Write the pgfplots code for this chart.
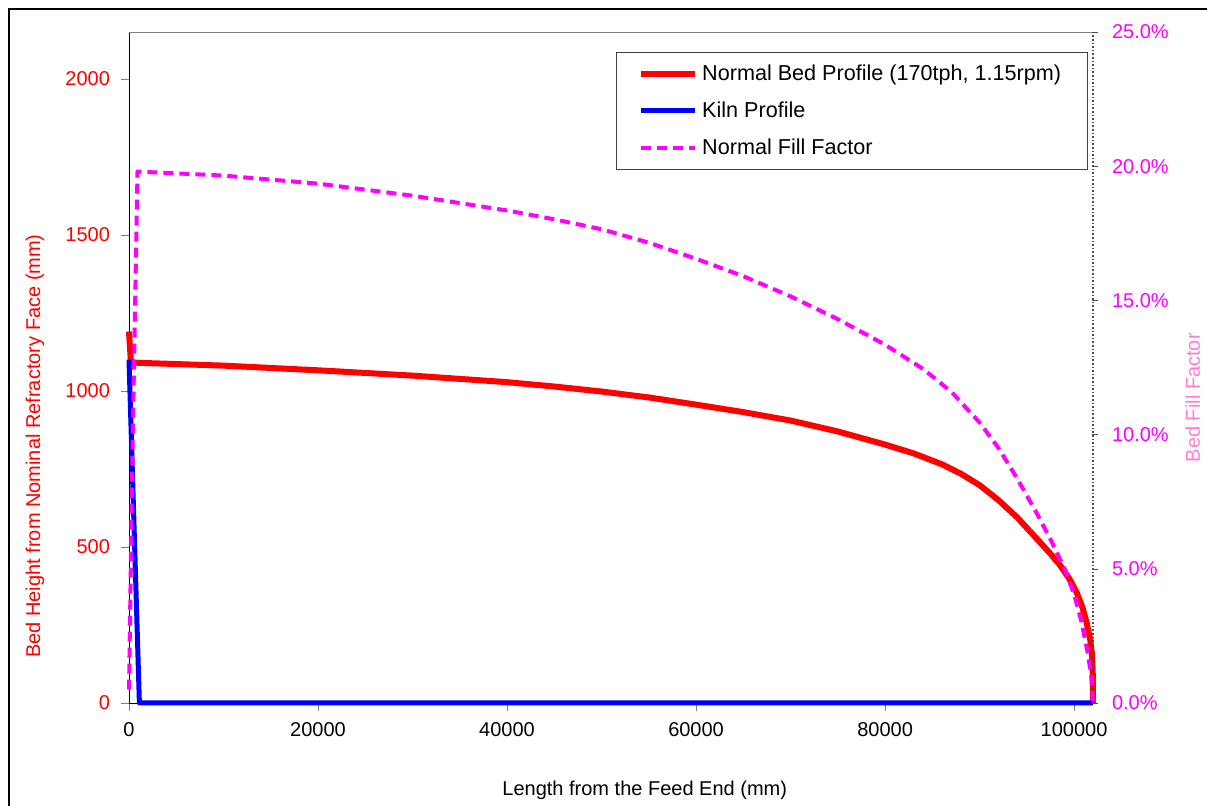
\documentclass[border=0pt]{standalone}
\usepackage{fontspec}
\setmainfont{Liberation Sans}
\usepackage{pgfplots}
\pgfplotsset{compat=1.18}
\definecolor{bedred}{RGB}{255,0,0}
\definecolor{kilnblue}{RGB}{0,0,255}
\definecolor{fillmag}{RGB}{255,0,255}
\definecolor{fillpink}{RGB}{255,125,215}

\begin{document}
\fontsize{10}{12}\selectfont
\begin{tikzpicture}
\pgfplotsset{
  every axis/.append style={
    scale only axis, width=482pt, height=335.5pt,
    xmin=0, xmax=102000, clip=false,
    /pgf/number format/assume math mode=true,
    tick label style={font=\fontsize{10}{12}\selectfont},
    label style={font=\fontsize{10}{12}\selectfont},
  }
}
\begin{axis}[
  name=ax,
  axis x line*=bottom, axis y line*=left,
  ymin=0, ymax=2150, ytick={0,500,1000,1500,2000},
  xtick={0,20000,40000,60000,80000,100000},
  scaled ticks=false,
  /pgf/number format/fixed, /pgf/number format/precision=0,
  /pgf/number format/1000 sep={},
  tick align=outside, major tick length=4pt,
  x axis line style={-}, y axis line style={-},
  yticklabel style={text=bedred, xshift=-2pt},
  xticklabel style={yshift=-2pt},
  xlabel={Length from the Feed End (mm)},
  xlabel style={at={(axis description cs:0.535,-0.1297)}, anchor=center},
  ylabel={Bed Height from Nominal Refractory Face (mm)},
  ylabel style={at={(axis description cs:-0.0975,0.383)}, anchor=center, text=bedred},
]
\draw[gray] (rel axis cs:0,1) -- (rel axis cs:1,1);
% Normal bed profile
\addplot[bedred, line width=3pt, line join=round] coordinates {
 (0,1190) (200,1092) (1000,1090) (10000,1081) (20000,1066) (30000,1049)
 (40000,1028) (45000,1014) (50000,998) (55000,979) (60000,956) (65000,932)
 (70000,905) (75000,870) (80000,828) (83000,800) (86000,765) (88000,735)
 (90000,698) (92000,650) (94000,594) (96000,528) (97500,478) (98500,442)
 (99500,398) (100300,352) (100900,305) (101340,256) (101700,205) (101900,155)
 (101980,90) (102000,0)};
% Kiln profile
\addplot[kilnblue, line width=2.5pt, line join=round] coordinates {
 (0,1100) (1100,0) (102000,0)};
\end{axis}

\begin{axis}[
  axis x line=none, axis y line*=right,
  ymin=0, ymax=0.25, ytick={0,0.05,0.1,0.15,0.2,0.25},
  y axis line style={-, gray!60!black, densely dotted, line width=0.8pt},
  tick align=center, major tick length=5pt,
  ytick style={gray!60!black, densely dashed},
  yticklabel={\pgfmathparse{\tick*100}\pgfmathprintnumber[fixed,fixed zerofill,precision=1]{\pgfmathresult}\%},
  yticklabel style={text=fillmag, xshift=3.5pt},
  ylabel={Bed Fill Factor},
  ylabel style={at={(axis description cs:1.1035,0.455)}, anchor=center, text=fillpink},
  legend style={at={(0.505,0.970)}, anchor=north west, draw=black!75,
    fill=white, inner xsep=11pt, inner ysep=4pt, row sep=5.2pt,
    font=\fontsize{10.8}{13}\selectfont},
  legend cell align=left,
  legend image code/.code={\draw[#1] (0pt,0pt) -- (27pt,0pt);},
]
\addlegendimage{bedred, line width=3pt}
\addlegendentry{Normal Bed Profile (170tph, 1.15rpm)}
\addlegendimage{kilnblue, line width=2.5pt}
\addlegendentry{Kiln Profile}
% Normal fill factor
\addplot[fillmag, line width=2pt, dash pattern=on 5pt off 3pt, line join=round] coordinates {
 (0,0.005) (400,0.10) (900,0.198) (10000,0.1965) (20000,0.1935) (30000,0.189)
 (40000,0.1835) (45000,0.1802) (50000,0.1765) (55000,0.1715) (60000,0.1655)
 (65000,0.1590) (70000,0.1515) (75000,0.1430) (80000,0.1335) (84000,0.1245)
 (87000,0.1160) (90000,0.1045) (92000,0.0950) (94000,0.0835) (96000,0.0710)
 (97500,0.0610) (99000,0.0500) (100000,0.0405) (100800,0.0300) (101400,0.0195)
 (101800,0.0105) (102000,0)};
\addlegendentry{Normal Fill Factor}
\end{axis}

\draw[black, line width=0.75pt] ([shift={(-60pt,-60pt)}]ax.south west)
  -- ([shift={(-60pt,347pt)}]ax.south west) -- ([shift={(560pt,347pt)}]ax.south west);
\pgfresetboundingbox
\path ([shift={(-64.5pt,-51.5pt)}]ax.south west) rectangle ([shift={(539pt,351.5pt)}]ax.south west);
\end{tikzpicture}
\end{document}
